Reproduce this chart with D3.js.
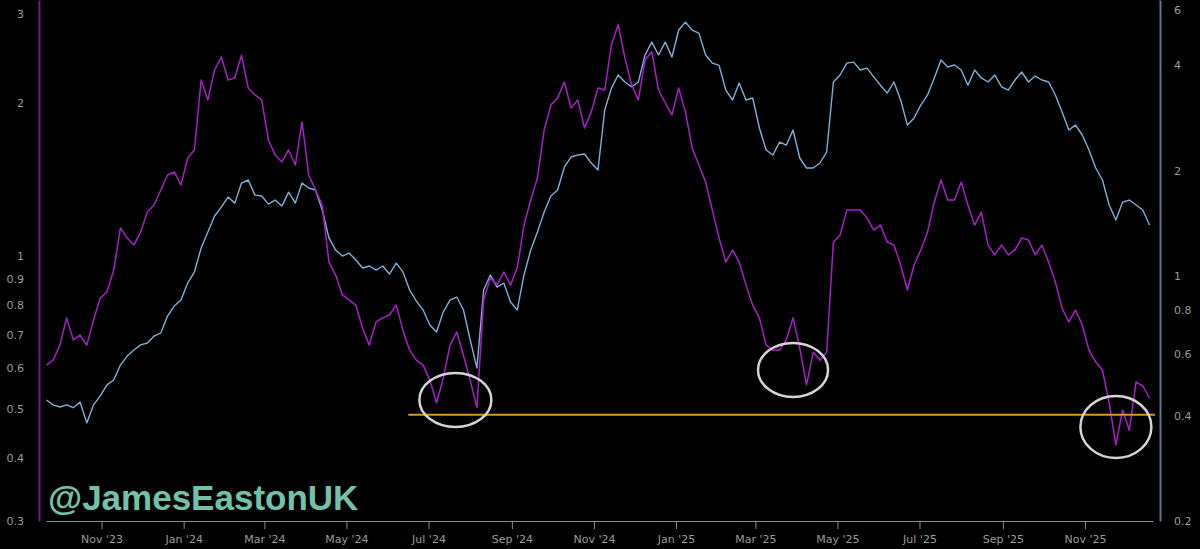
<!DOCTYPE html>
<html><head><meta charset="utf-8">
<script src="https://cdn.jsdelivr.net/npm/d3@7"></script>
<style>html,body{margin:0;background:#000;overflow:hidden}</style>
</head><body><svg id="c" width="1200" height="549"></svg>
<script>
// ---- data ----
const startDate = "2023-09-21";
const stepDays = 5;
// purple series, left (log) axis
const purpleValues = [0.609,0.623,0.667,0.755,0.683,0.698,0.667,0.748,0.826,0.849,
0.938,1.136,1.085,1.051,1.115,1.221,1.261,1.350,1.445,1.465,
1.381,1.561,1.619,2.225,2.032,2.328,2.47,2.225,2.245,2.49,
2.146,2.079,2.032,1.694,1.583,1.533,1.619,1.512,1.839,1.445,
1.350,1.261,0.973,0.917,0.838,0.819,0.800,0.721,0.667,0.741,
0.755,0.765,0.800,0.714,0.652,0.623,0.609,0.569,0.513,0.574,
0.667,0.708,0.637,0.569,0.502,0.819,0.905,0.877,0.930,0.877,
0.947,1.151,1.290,1.426,1.773,1.987,2.051,2.205,1.960,2.032,
1.789,1.925,2.146,2.126,2.61,2.86,2.46,2.176,2.032,2.436,
2.53,2.126,2.005,1.898,2.146,1.925,1.634,1.512,1.400,1.232,
1.085,0.973,1.028,0.973,0.877,0.800,0.755,0.667,0.652,0.652,
0.683,0.755,0.658,0.557,0.646,0.623,0.646,1.065,1.100,1.232,
1.232,1.232,1.189,1.125,1.151,1.065,1.051,0.960,0.857,0.960,
1.028,1.115,1.278,1.413,1.290,1.290,1.400,1.261,1.151,1.221,
1.051,1.005,1.051,1.005,1.028,1.085,1.075,1.005,1.051,0.973,
0.889,0.789,0.741,0.782,0.731,0.652,0.618,0.596,0.513,0.424,
0.497,0.453,0.564,0.554,0.524];
// blue series, right (log) axis
const blueValues = [0.443,0.429,0.423,0.429,0.421,0.437,0.381,0.429,0.455,0.489,
0.505,0.557,0.591,0.615,0.636,0.644,0.674,0.688,0.769,0.821,
0.854,0.955,1.027,1.202,1.335,1.483,1.573,1.680,1.614,1.842,
1.879,1.701,1.691,1.604,1.647,1.583,1.735,1.614,1.842,1.783,
1.759,1.543,1.284,1.186,1.140,1.163,1.111,1.054,1.068,1.040,
1.068,1.013,1.089,1.027,0.912,0.848,0.800,0.725,0.692,0.790,
0.854,0.871,0.800,0.657,0.547,0.912,1.007,0.930,0.955,0.843,
0.800,1.007,1.186,1.335,1.522,1.691,1.759,2.047,2.185,2.215,
2.229,2.101,2.006,2.975,3.436,3.746,3.577,3.464,3.577,4.272,
4.649,4.272,4.649,4.216,5.033,5.30,5.033,4.93,4.272,4.05,
3.99,3.393,3.178,3.553,3.178,3.22,2.644,2.288,2.215,2.41,
2.363,2.609,2.171,2.033,2.033,2.101,2.258,3.577,3.746,4.05,
4.077,3.870,3.92,3.70,3.50,3.325,3.577,3.178,2.695,2.825,
3.075,3.285,3.673,4.133,3.948,4.0,3.870,3.50,3.870,3.673,
3.577,3.746,3.464,3.393,3.624,3.82,3.577,3.72,3.624,3.577,
3.285,2.937,2.609,2.695,2.525,2.288,2.033,1.879,1.594,1.445,
1.625,1.647,1.594,1.543,1.398];
const leftTicks = [0.3,0.4,0.5,0.6,0.7,0.8,0.9,1,2,3];
const rightTicks = [0.2,0.4,0.6,0.8,1,2,4,6];
const supportLevel = 0.486;            // left-axis value of the horizontal line
const supportStart = "2024-06-16", supportEnd = "2025-12-23";
const circleDates = ["2024-07-21","2025-03-29","2025-11-24"];
const circleValues = [0.52,0.596,0.46];  // left-axis values
const watermark = "@JamesEastonUK";

// ---- chart ----
const svg = d3.select("#c");
const W = 1200, H = 549;
svg.append("rect").attr("width",W).attr("height",H).attr("fill","#000");

const x = d3.scaleUtc()
  .domain([new Date(Date.UTC(2023,8,20,16)), new Date(Date.UTC(2025,11,21,14))])
  .range([46,1153]);
const yL = d3.scaleLog().domain([0.3,3.2]).range([521,0]);
const yR = d3.scaleLog().domain([0.2,6.13]).range([521,0]);

const t0 = d3.utcParse("%Y-%m-%d")(startDate);
const toDate = i => d3.utcDay.offset(t0, i*stepDays);
const purple = purpleValues.map((v,i)=>({d:toDate(i),v}));
const blue = blueValues.map((v,i)=>({d:toDate(i),v}));
const parse = d3.utcParse("%Y-%m-%d");

const font = "DejaVu Sans, sans-serif";

// watermark
svg.append("text").attr("x",48).attr("y",510)
  .attr("font-family","Liberation Sans, Arial, sans-serif").attr("font-weight","bold")
  .attr("font-size",35).attr("fill","#72c1a8").text(watermark);

// x axis
const xAxis = d3.axisBottom(x)
  .ticks(d3.utcMonth.every(2))
  .tickFormat(d3.utcFormat("%b '%y"))
  .tickSize(8).tickSizeOuter(0).tickPadding(6);
const gx = svg.append("g").attr("transform","translate(0,521)").call(xAxis);
gx.select(".domain").attr("stroke","#8a8a8a").attr("stroke-width",1.2);
gx.selectAll(".tick line").attr("stroke","#8a8a8a");
gx.selectAll(".tick text").attr("fill","#9a9a9a").attr("font-family",font).attr("font-size",11);

// left axis
const gl = svg.append("g").attr("transform","translate(39,0)")
  .call(d3.axisLeft(yL).tickValues(leftTicks).tickFormat(d3.format("~g")).tickSize(0).tickPadding(15).tickSizeOuter(0));
gl.select(".domain").attr("stroke","#6e1f80").attr("stroke-width",2);
gl.selectAll(".tick text").attr("fill","#9a9a9a").attr("font-family",font).attr("font-size",11);

// right axis
const gr = svg.append("g").attr("transform","translate(1160,0)")
  .call(d3.axisRight(yR).tickValues(rightTicks).tickFormat(d3.format("~g")).tickSize(0).tickPadding(14).tickSizeOuter(0));
gr.select(".domain").attr("stroke","#61778f").attr("stroke-width",2);
gr.selectAll(".tick text").attr("fill","#9a9a9a").attr("font-family",font).attr("font-size",11)
  .attr("dy", d => (yR(d) < 8 ? "0.9em" : "0.32em"));

// lines
svg.append("path").datum(blue)
  .attr("d", d3.line().x(d=>x(d.d)).y(d=>yR(d.v)))
  .attr("fill","none").attr("stroke","#7db1d8").attr("stroke-width",1.4).attr("stroke-linejoin","round");
svg.append("path").datum(purple)
  .attr("d", d3.line().x(d=>x(d.d)).y(d=>yL(d.v)))
  .attr("fill","none").attr("stroke","#a81fc8").attr("stroke-width",1.5).attr("stroke-linejoin","round");

// support line
svg.append("line")
  .attr("x1",x(parse(supportStart))).attr("x2",x(parse(supportEnd)))
  .attr("y1",yL(supportLevel)).attr("y2",yL(supportLevel))
  .attr("stroke","#d9962a").attr("stroke-width",2);

// circles
const rx = [36,35,35.5], ry = [27,27,31];
svg.selectAll("ellipse.c").data(circleDates).join("ellipse")
  .attr("cx",(d,i)=>x(parse(d))).attr("cy",(d,i)=>yL(circleValues[i]))
  .attr("rx",(d,i)=>rx[i]).attr("ry",(d,i)=>ry[i])
  .attr("fill","none").attr("stroke","#d4d4d4").attr("stroke-width",2.5);
</script></body></html>
